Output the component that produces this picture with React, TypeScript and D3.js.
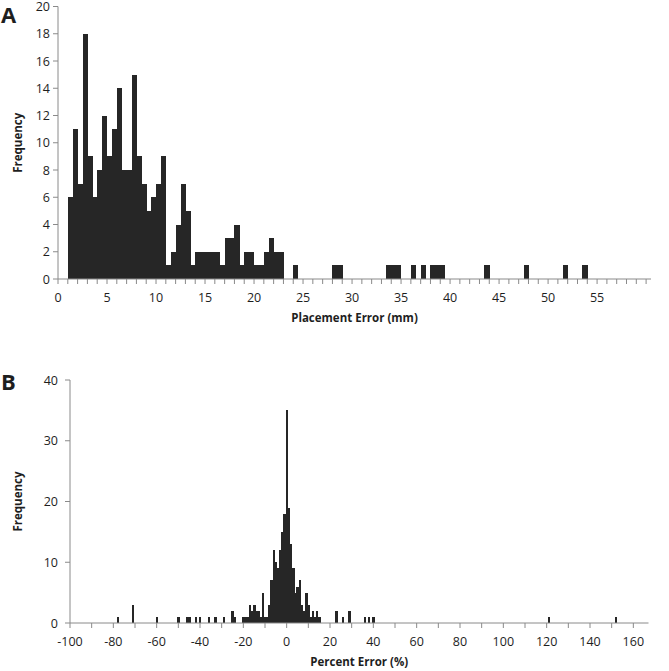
import React from "react";
import * as d3 from "d3";

// Panel A: placement error histogram, 0.5 mm bins (bin start, count)
const placementBins = [
  1.0, 1.5, 2.0, 2.5, 3.0, 3.5, 4.0, 4.5, 5.0, 5.5, 6.0, 6.5, 7.0, 7.5, 8.0, 8.5, 9.0, 9.5,
  10.0, 10.5, 11.0, 11.5, 12.0, 12.5, 13.0, 13.5, 14.0, 14.5, 15.0, 15.5, 16.0, 16.5, 17.0,
  17.5, 18.0, 18.5, 19.0, 19.5, 20.0, 20.5, 21.0, 21.5, 22.0, 22.5, 24.0, 28.0, 28.5, 33.5,
  34.0, 34.5, 36.0, 37.0, 38.0, 38.5, 39.0, 43.5, 47.5, 51.5, 53.5,
];
const placementCounts = [
  6, 11, 7, 18, 9, 6, 8, 12, 9, 11, 14, 8, 8, 15, 9, 7, 5, 6,
  7, 9, 1, 2, 4, 7, 5, 1, 2, 2, 2, 2, 2, 1, 3,
  3, 4, 1, 2, 2, 1, 1, 2, 3, 2, 2, 1, 1, 1, 1,
  1, 1, 1, 1, 1, 1, 1, 1, 1, 1, 1,
];
const placementXLabels = [0, 5, 10, 15, 20, 25, 30, 35, 40, 45, 50, 55];
const placementYLabels = [0, 2, 4, 6, 8, 10, 12, 14, 16, 18, 20];

// Panel B: percent error histogram, 1 % bins (bin centre, count)
const percentBins = [
  -78, -71, -60, -50, -46, -45, -42, -40, -36, -33, -29, -25, -24, -20, -19, -18, -17, -16,
  -15, -14, -13, -12, -11, -10, -9, -8, -7, -6, -5, -4, -3, -2, -1, 0, 1, 2, 3, 4, 5, 6, 7,
  8, 9, 10, 11, 12, 13, 14, 15, 23, 26, 29, 36, 38, 40, 121, 152,
];
const percentCounts = [
  1, 3, 1, 1, 1, 1, 1, 1, 1, 1, 1, 2, 1, 1, 1, 1, 3, 2,
  3, 2, 2, 1, 5, 1, 1, 3, 7, 12, 10, 9, 12, 15, 18, 35, 19, 13, 9, 5, 6, 7, 3,
  2, 5, 3, 1, 2, 1, 2, 1, 2, 1, 2, 1, 1, 1, 1, 1,
];
const percentXLabels = [-100, -80, -60, -40, -20, 0, 20, 40, 60, 80, 100, 120, 140, 160];
const percentYLabels = [0, 10, 20, 30, 40];

const FONT = "'Open Sans', 'DejaVu Sans', sans-serif";
const BAR = "#262626";
const AXIS = "#8a8a8a";
const TEXT = "#1e1e1e";

export default function App() {
  const xA = d3.scaleLinear().domain([0, 60.5]).range([58, 651]);
  const yA = d3.scaleLinear().domain([0, 20]).range([279, 6.5]);
  const xB = d3.scaleLinear().domain([-100, 167]).range([70, 648.5]);
  const yB = d3.scaleLinear().domain([0, 40]).range([623, 380]);

  const aMinorTicks = d3.range(0, 61, 1);
  const bMinorTicks = d3.range(-100, 161, 10);

  return (
    <svg
      width={669}
      height={671}
      style={{ position: "absolute", left: 0, top: 0, background: "#fff" }}
      fontFamily={FONT}
    >
      <rect width={669} height={671} fill="#fff" />

      {/* Panel A */}
      <text x={1} y={23} fontSize={22} fontWeight="bold" fill={TEXT}>A</text>
      <g shapeRendering="crispEdges">
        {placementBins.map((b, i) => (
          <rect
            key={"a" + i}
            x={xA(b)}
            y={yA(placementCounts[i])}
            width={xA(b + 0.5) - xA(b) + 0.3}
            height={yA(0) - yA(placementCounts[i])}
            fill={BAR}
          />
        ))}
      </g>
      <line x1={xA(0)} x2={xA(0)} y1={yA(20)} y2={yA(0)} stroke={AXIS} />
      <line x1={xA(0)} x2={xA(60.5)} y1={yA(0)} y2={yA(0)} stroke={AXIS} />
      {placementYLabels.map((v) => (
        <g key={"ay" + v}>
          <line x1={xA(0) - 5} x2={xA(0)} y1={yA(v)} y2={yA(v)} stroke={AXIS} />
          <text x={50} y={yA(v)} dy="0.36em" textAnchor="end" fontSize={12.5} fill={TEXT}>
            {v}
          </text>
        </g>
      ))}
      {aMinorTicks.map((v) => (
        <line key={"axt" + v} x1={xA(v)} x2={xA(v)} y1={yA(0)} y2={yA(0) + 5} stroke={AXIS} />
      ))}
      {placementXLabels.map((v) => (
        <text key={"axl" + v} x={xA(v)} y={302} textAnchor="middle" fontSize={12.5} fill={TEXT}>
          {v}
        </text>
      ))}
      <text
        transform={`translate(22,${(yA(0) + yA(20)) / 2}) rotate(-90)`}
        textAnchor="middle"
        fontSize={11.5}
        fontWeight="bold"
        fill={TEXT}
      >
        Frequency
      </text>
      <text x={(xA(0) + xA(60.5)) / 2} y={322} textAnchor="middle" fontSize={11.5} fontWeight="bold" fill={TEXT}>
        Placement Error (mm)
      </text>

      {/* Panel B */}
      <text x={1} y={390} fontSize={22} fontWeight="bold" fill={TEXT}>B</text>
      <g shapeRendering="crispEdges">
        {percentBins.map((b, i) => (
          <rect
            key={"b" + i}
            x={xB(b - 0.5)}
            y={yB(percentCounts[i])}
            width={xB(b + 0.5) - xB(b - 0.5) + 0.3}
            height={yB(0) - yB(percentCounts[i])}
            fill={BAR}
          />
        ))}
      </g>
      <line x1={xB(-100)} x2={xB(-100)} y1={yB(40)} y2={yB(0)} stroke={AXIS} />
      <line x1={xB(-100)} x2={xB(167)} y1={yB(0)} y2={yB(0)} stroke={AXIS} />
      {percentYLabels.map((v) => (
        <g key={"by" + v}>
          <line x1={xB(-100) - 5} x2={xB(-100)} y1={yB(v)} y2={yB(v)} stroke={AXIS} />
          <text x={58} y={yB(v)} dy="0.36em" textAnchor="end" fontSize={12.5} fill={TEXT}>
            {v}
          </text>
        </g>
      ))}
      {bMinorTicks.map((v) => (
        <line key={"bxt" + v} x1={xB(v)} x2={xB(v)} y1={yB(0)} y2={yB(0) + 5} stroke={AXIS} />
      ))}
      {percentXLabels.map((v) => (
        <text key={"bxl" + v} x={xB(v)} y={646} textAnchor="middle" fontSize={12.5} fill={TEXT}>
          {v}
        </text>
      ))}
      <text
        transform={`translate(22,${(yB(0) + yB(40)) / 2}) rotate(-90)`}
        textAnchor="middle"
        fontSize={11.5}
        fontWeight="bold"
        fill={TEXT}
      >
        Frequency
      </text>
      <text x={(xB(-100) + xB(167)) / 2} y={666} textAnchor="middle" fontSize={11.5} fontWeight="bold" fill={TEXT}>
        Percent Error (%)
      </text>
    </svg>
  );
}
